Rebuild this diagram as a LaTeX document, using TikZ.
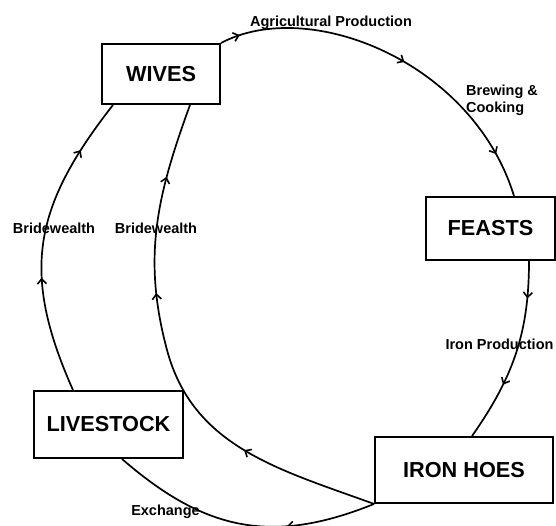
\documentclass[tikz,border=0pt]{standalone}
\usepackage{fontspec}
\setmainfont{Liberation Sans}
\usetikzlibrary{positioning,calc,arrows.meta,decorations.markings}
\tikzset{
	box/.style={draw, line width=1.9pt, inner sep=0pt, font=\fontsize{21.7}{26}\selectfont\bfseries},
	lbl/.style={inner sep=0pt, align=left, font=\fontsize{14.5}{17}\selectfont\bfseries},
	flow/.style={line width=1.7pt},
	barb at/.style={postaction={decorate, decoration={markings,
		mark=at position #1 with {\arrow{Straight Barb[length=5pt,width=9pt,line width=1.6pt]}}}}},
}

\begin{document}
\begin{tikzpicture}[x=1pt, y=1pt]
	\useasboundingbox (0,0) rectangle (556,525);
	\begin{scope}
		\node[box, minimum width=118pt, minimum height=60pt] (wives) at (161,451) {WIVES};
		\node[box, minimum width=129pt, minimum height=63pt] (feasts) at (490.5,296.5) {FEASTS};
		\node[box, minimum width=178pt, minimum height=66pt] (hoes) at (464,55) {IRON HOES};
		\node[box, minimum width=149pt, minimum height=67pt] (livestock) at (108.5,100.5) {LIVESTOCK};

		\node[lbl] (agri) at (331,502) {Agricultural Production};
		\node[lbl] (brew) at (502,425) {Brewing \&\\Cooking};
		\node[lbl] (iprod) at (499.5,181) {Iron Production};
		\node[lbl] (exch) at (165.5,13) {Exchange};
		\node[lbl] (bw1) at (54,297) {Bridewealth};
		\node[lbl] (bw2) at (156,297) {Bridewealth};

		\coordinate (bend) at (167,175);

		\draw[flow, barb at=0.055, barb at=0.52, barb at=0.876] (wives.north east)
			to[out=28, in=107, out distance=100pt, in distance=140pt] ([xshift=23.5pt]feasts.north);
		\draw[flow, barb at=0.2, barb at=0.68] ([xshift=38.5pt]feasts.south)
			to[out=-90, in=55] ([xshift=8pt]hoes.north);
		\draw[flow, barb at=0.33] (hoes.south west)
			to[out=-158, in=-41, looseness=1.1] ([xshift=13.5pt]livestock.south);
		\draw[flow, barb at=0.27, barb at=0.63, barb at=0.855] (hoes.south west)
			to[out=160, in=-75] (bend) to[out=105, in=-110] ([xshift=29pt]wives.south);
		\draw[flow, barb at=0.38, barb at=0.82] ([xshift=-35.5pt]livestock.north)
			to[out=114, in=-128, looseness=1.15] ([xshift=-48pt]wives.south);
	\end{scope}
\end{tikzpicture}
\end{document}
